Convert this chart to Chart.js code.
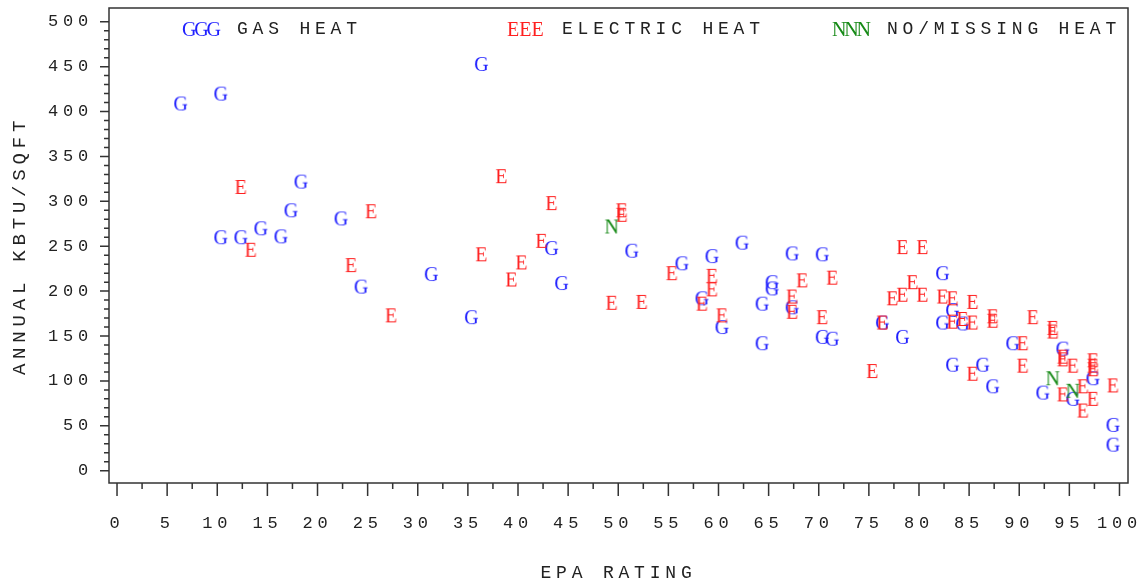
<!DOCTYPE html>
<html>
<head>
<meta charset="utf-8">
<script src="https://cdn.jsdelivr.net/npm/chart.js@4"></script>
<style>
  body { margin: 0; background: #fff; }
  #wrap { width: 1143px; height: 584px; position: relative; }
</style>
</head>
<body>
<div id="wrap"><canvas id="epaChart"></canvas></div>
<script>
// EPA rating vs annual kBTU per sqft, one letter per building
const gasX = [6, 10, 36, 10, 12, 14, 16, 17, 18, 22, 24, 31, 35, 43, 44, 51, 56, 59, 62, 58, 60, 64, 64, 65, 65, 67, 67, 70, 70, 71, 76, 78, 82, 82, 83, 83, 84, 86, 87, 89, 92, 94, 95, 97, 99, 99];
const gasY = [409, 420, 453, 260, 260, 270, 261, 290, 322, 281, 205, 219, 171, 248, 209, 245, 231, 239, 254, 192, 160, 186, 142, 210, 203, 242, 182, 241, 149, 147, 165, 149, 220, 165, 179, 118, 164, 118, 94, 142, 87, 136, 80, 103, 51, 29];

const elecX = [12, 13, 25, 23, 27, 38, 43, 42, 36, 40, 39, 50, 50, 49, 52, 55, 58, 59, 59, 60, 67, 67, 68, 70, 71, 75, 76, 77, 78, 78, 79, 80, 80, 82, 83, 83, 84, 85, 85, 85, 87, 87, 90, 90, 91, 93, 93, 94, 94, 94, 95, 96, 96, 97, 97, 97, 97, 99];
const elecY = [316, 246, 289, 229, 173, 328, 298, 256, 241, 232, 213, 290, 285, 187, 188, 220, 186, 217, 202, 173, 194, 177, 212, 171, 215, 111, 165, 192, 249, 196, 210, 249, 196, 194, 192, 166, 169, 188, 165, 108, 172, 167, 142, 117, 171, 159, 155, 127, 124, 85, 117, 94, 67, 123, 117, 113, 80, 95];

const noneX = [49, 93, 95];
const noneY = [272, 103, 89];

const xTicks = [0, 5, 10, 15, 20, 25, 30, 35, 40, 45, 50, 55, 60, 65, 70, 75, 80, 85, 90, 95, 100];
const yTicks = [0, 50, 100, 150, 200, 250, 300, 350, 400, 450, 500];

const monoFont = "'Liberation Mono', 'DejaVu Sans Mono', monospace";
const serifFont = "'Liberation Serif', 'DejaVu Serif', serif";
const inkColor = "#222";

function toPoints(xs, ys) {
  return xs.map((x, i) => ({ x: x, y: ys[i] }));
}

// small canvas with the plotting letter, used as the point style
function letterMarker(ch, color) {
  const c = document.createElement("canvas");
  c.width = 30;
  c.height = 30;
  const g = c.getContext("2d");
  g.font = "20px " + serifFont;
  g.fillStyle = color;
  g.textAlign = "center";
  g.textBaseline = "alphabetic";
  g.fillText(ch, 15 + 3.4, 15 + 6.6);
  return c;
}

const spacedText = {
  id: "spacedText",
  beforeLayout(chart) { chart.ctx.letterSpacing = "4.8px"; },
  beforeDraw(chart) { chart.ctx.letterSpacing = "4.8px"; }
};

// frame plus major/minor tick marks
const axisFrame = {
  id: "axisFrame",
  afterDatasetsDraw(chart) {
    const { ctx, chartArea: a, scales: { x, y } } = chart;
    ctx.save();
    ctx.strokeStyle = "#333";
    ctx.lineWidth = 1.5;
    ctx.strokeRect(a.left, a.top, a.right - a.left, a.bottom - a.top);
    ctx.beginPath();
    xTicks.forEach((v, i) => {
      const px = x.getPixelForValue(v);
      ctx.moveTo(px, a.bottom);
      ctx.lineTo(px, a.bottom + 13);
      if (i < xTicks.length - 1) {
        const mx = x.getPixelForValue((v + xTicks[i + 1]) / 2);
        ctx.moveTo(mx, a.bottom);
        ctx.lineTo(mx, a.bottom + 6);
      }
    });
    yTicks.forEach((v, i) => {
      const py = y.getPixelForValue(v);
      ctx.moveTo(a.left - 9, py);
      ctx.lineTo(a.left, py);
      if (i < yTicks.length - 1) {
        const step = (yTicks[i + 1] - v) / 5;
        for (let k = 1; k < 5; k++) {
          const my = y.getPixelForValue(v + k * step);
          ctx.moveTo(a.left - 5, my);
          ctx.lineTo(a.left, my);
        }
      }
    });
    ctx.stroke();
    ctx.restore();
  }
};

// SAS style legend: three letters then the label, inside the frame
const letterLegend = {
  id: "letterLegend",
  afterDraw(chart) {
    const { ctx, chartArea: a } = chart;
    const offsets = [73, 398, 723];
    const cy = a.top + 21;
    ctx.save();
    chart.data.datasets.forEach((ds, i) => {
      const x0 = a.left + offsets[i];
      ctx.letterSpacing = "0px";
      ctx.font = "20px " + serifFont;
      ctx.fillStyle = ds.markerColor;
      ctx.textAlign = "left";
      ctx.textBaseline = "alphabetic";
      for (let k = 0; k < 3; k++) {
        ctx.fillText(ds.markerChar, x0 + k * 12.3, cy + 6.6);
      }
      ctx.letterSpacing = "4.8px";
      ctx.font = "18px " + monoFont;
      ctx.fillStyle = inkColor;
      ctx.textBaseline = "middle";
      ctx.fillText(ds.label, x0 + 55, cy);
    });
    ctx.restore();
  }
};

function fixX(scale) {
  scale.height = 101;
  scale.paddingLeft = 0;
  scale.paddingRight = 0;
}

function fixY(scale) {
  scale.width = 109;
  scale.paddingTop = 0;
  scale.paddingBottom = 0;
}

const ctx = document.getElementById("epaChart").getContext("2d");
const epaChart = new Chart(ctx, {
  type: "scatter",
  data: {
    datasets: [
      {
        label: "GAS HEAT",
        markerChar: "G",
        markerColor: "#1f1fff",
        data: toPoints(gasX, gasY),
        pointStyle: letterMarker("G", "#1f1fff"),
        pointRadius: 7,
        order: 3,
      },
      {
        label: "ELECTRIC HEAT",
        markerChar: "E",
        markerColor: "#ff1f1f",
        data: toPoints(elecX, elecY),
        pointStyle: letterMarker("E", "#ff1f1f"),
        pointRadius: 7,
        order: 2,
      },
      {
        label: "NO/MISSING HEAT",
        markerChar: "N",
        markerColor: "#178a17",
        data: toPoints(noneX, noneY),
        pointStyle: letterMarker("N", "#178a17"),
        pointRadius: 7,
        order: 1,
      },
    ],
  },
  options: {
    animation: false,
    responsive: true,
    maintainAspectRatio: false,
    layout: { padding: { top: 8, right: 15, left: 0, bottom: 0 } },
    plugins: {
      legend: { display: false },
      tooltip: { enabled: false },
    },
    scales: {
      x: {
        type: "linear",
        min: -0.8,
        max: 100.85,
        grid: { display: false, drawTicks: false },
        border: { display: false },
        afterBuildTicks: (scale) => { scale.ticks = xTicks.map((v) => ({ value: v })); },
        afterFit: fixX,
        ticks: {
          autoSkip: false,
          maxRotation: 0,
          padding: 30,
          color: inkColor,
          font: { family: monoFont, size: 17 },
        },
        title: {
          display: true,
          text: "EPA RATING",
          color: inkColor,
          font: { family: monoFont, size: 18 },
          padding: { top: 0, bottom: 0 },
        },
      },
      y: {
        type: "linear",
        min: -13.7,
        max: 515.3,
        grid: { display: false, drawTicks: false },
        border: { display: false },
        afterBuildTicks: (scale) => { scale.ticks = yTicks.map((v) => ({ value: v })); },
        afterFit: fixY,
        ticks: {
          autoSkip: false,
          padding: 16,
          color: inkColor,
          font: { family: monoFont, size: 17 },
        },
        title: {
          display: true,
          text: "ANNUAL KBTU/SQFT",
          color: inkColor,
          font: { family: monoFont, size: 19 },
          padding: { top: 9, bottom: 0 },
        },
      },
    },
  },
  plugins: [spacedText, axisFrame, letterLegend],
});
</script>
</body>
</html>
